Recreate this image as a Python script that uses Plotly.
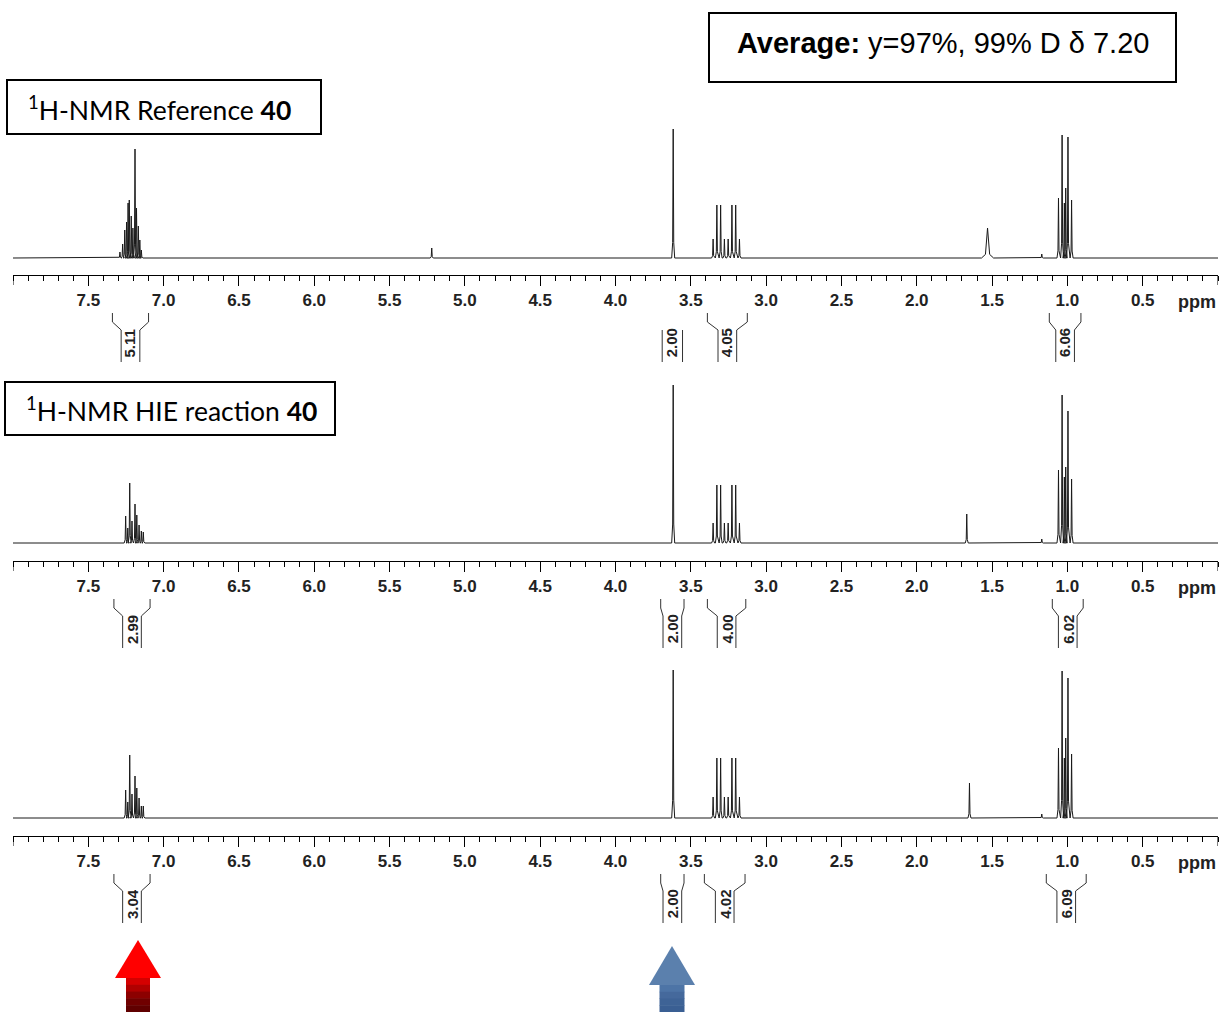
import plotly.graph_objects as go

# ---------------- data ----------------
# Panel 1: 1H-NMR Reference 40
ref_ppm = [7.290, 7.272, 7.258, 7.246, 7.236, 7.228, 7.215, 7.204, 7.190, 7.180, 7.168, 7.158, 7.148,
           5.220, 3.617,
           3.352, 3.327, 3.302, 3.277, 3.252, 3.227, 3.202, 3.177,
           1.170, 1.059, 1.035, 1.020, 1.011, 0.996, 0.972]
ref_int = [6, 14, 28, 36, 55, 58, 42, 30, 109, 50, 32, 18, 8,
           10, 129,
           19, 53, 53, 19, 19, 53, 53, 19,
           4, 60, 123, 55, 70, 121, 58]
ref_broad_ppm = [1.530]
ref_broad_int = [30]

# Panel 2: 1H-NMR HIE reaction 40
hie_ppm = [7.252, 7.238, 7.225, 7.210, 7.190, 7.178, 7.163, 7.148, 7.135,
           3.617,
           3.352, 3.327, 3.302, 3.277, 3.252, 3.227, 3.202, 3.177,
           1.668, 1.170, 1.059, 1.035, 1.020, 1.011, 0.996, 0.972]
hie_int = [27, 15, 60, 22, 39, 28, 18, 12, 11,
           158,
           20, 58, 58, 20, 20, 58, 58, 20,
           29, 4, 73, 148, 66, 76, 132, 64]

# Panel 3: repeat
rep_ppm = [7.252, 7.238, 7.225, 7.210, 7.190, 7.178, 7.163, 7.148, 7.135,
           3.617,
           3.352, 3.327, 3.302, 3.277, 3.252, 3.227, 3.202, 3.177,
           1.650, 1.170, 1.059, 1.035, 1.020, 1.011, 0.996, 0.972]
rep_int = [28, 16, 63, 24, 42, 30, 20, 12, 12,
           148,
           21, 60, 60, 21, 21, 60, 60, 21,
           35, 4, 70, 147, 60, 80, 140, 64]

# integrals: start ppm, end ppm, value
int1_start = [7.34, 3.69, 3.39, 1.12]
int1_end = [7.10, 3.555, 3.125, 0.91]
int1_val = ["5.11", "2.00", "4.05", "6.06"]
int2_start = [7.33, 3.70, 3.39, 1.10]
int2_end = [7.09, 3.545, 3.135, 0.895]
int2_val = ["2.99", "2.00", "4.00", "6.02"]
int3_start = [7.33, 3.70, 3.41, 1.14]
int3_end = [7.09, 3.545, 3.14, 0.875]
int3_val = ["3.04", "2.00", "4.02", "6.09"]

tick_vals = [7.5, 7.0, 6.5, 6.0, 5.5, 5.0, 4.5, 4.0, 3.5, 3.0, 2.5, 2.0, 1.5, 1.0, 0.5]
tick_text = ["7.5", "7.0", "6.5", "6.0", "5.5", "5.0", "4.5", "4.0", "3.5", "3.0", "2.5",
             "2.0", "1.5", "1.0", "0.5"]
axis_ends = [8.0, 0.0]

# ---------------- helpers ----------------
W, H = 1220, 1012


def px(p):
    return p / W


def py(p):
    return 1 - p / H


SHAPE_OFF = [1.0, 0.35, 0.0, -0.35, -1.0]
SHAPE_REL = [0.0, 0.12, 1.0, 0.12, 0.0]


def spectrum(ppms, ints, broad_ppm=(), broad_int=(), w=0.010, wb=0.04, x_max=8.0, x_min=0.0):
    peaks = [(p, h, w) for p, h in zip(ppms, ints)]
    peaks += [(p, h, wb) for p, h in zip(broad_ppm, broad_int)]
    peaks.sort(key=lambda t: -t[0])
    xs, ys = [x_max], [0]
    for p, h, ww in peaks:
        for o, r in zip(SHAPE_OFF, SHAPE_REL):
            xs.append(p + o * ww)
            ys.append(h * r)
    xs.append(x_min)
    ys.append(0)
    return xs, ys


panels = [
    dict(axis=275, top=115, base_off=17, ppm=ref_ppm, ints=ref_int, bp=ref_broad_ppm, bi=ref_broad_int,
         ist=int1_start, ien=int1_end, ival=int1_val),
    dict(axis=561, top=378, base_off=18, ppm=hie_ppm, ints=hie_int, bp=[], bi=[],
         ist=int2_start, ien=int2_end, ival=int2_val),
    dict(axis=836, top=655, base_off=18, ppm=rep_ppm, ints=rep_int, bp=[], bi=[],
         ist=int3_start, ien=int3_end, ival=int3_val),
]

fig = go.Figure()
shapes = []
annotations = []
layout = {}

for i, pn in enumerate(panels):
    n = "" if i == 0 else str(i + 1)
    xs, ys = spectrum(pn["ppm"], pn["ints"], pn["bp"], pn["bi"])
    fig.add_trace(go.Scatter(x=xs, y=ys, mode="lines", line=dict(color="#1a1a1a", width=1),
                             xaxis="x" + n, yaxis="y" + n, showlegend=False, hoverinfo="skip"))
    span = pn["axis"] - pn["top"]
    layout["yaxis" + n] = dict(domain=[py(pn["axis"]), py(pn["top"])],
                               range=[-pn["base_off"], span - pn["base_off"]],
                               visible=False, anchor="x" + n)
    layout["xaxis" + n] = dict(domain=[px(13), px(1218)], range=[8.0, 0.0], anchor="y" + n,
                               showline=True, linecolor="black", linewidth=1,
                               showgrid=False, zeroline=False,
                               ticks="outside", ticklen=10, tickcolor="black", tickwidth=1,
                               tickmode="array", tickvals=tick_vals, ticktext=tick_text,
                               tickfont=dict(family="Liberation Sans, Arial", size=17, color="#222",
                                             weight="bold"),
                               ticklabelstandoff=0,
                               minor=dict(tickmode="linear", tick0=0, dtick=0.1, ticks="outside",
                                          ticklen=5, tickcolor="black", tickwidth=1, showgrid=False))
    A = pn["axis"]
    # long ticks at both axis ends
    for xe in axis_ends:
        shapes.append(dict(type="line", xref="x" + n, yref="paper", x0=xe, x1=xe, y0=py(A), y1=py(A + 10),
                           line=dict(color="black", width=1)))
    annotations.append(dict(text="<b>ppm</b>", xref="paper", yref="paper", x=px(1197), y=py(A + 27),
                            xanchor="center", yanchor="middle", showarrow=False,
                            font=dict(family="Liberation Sans, Arial", size=18, color="#222")))
    # integrals
    hw = 0.062
    y_top, y_bend, y_nar, y_bot = py(A + 38), py(A + 47), py(A + 55), py(A + 87)
    for s, e, v in zip(pn["ist"], pn["ien"], pn["ival"]):
        mid = (s + e) / 2
        if (s - e) / 2 <= hw + 0.01:
            path = (f"M {s},{y_nar} L {s},{y_bot} M {e},{y_nar} L {e},{y_bot}")
        else:
            path = (f"M {s},{y_top} L {s},{y_bend} L {mid + hw},{y_nar} L {mid + hw},{y_bot} "
                    f"M {e},{y_top} L {e},{y_bend} L {mid - hw},{y_nar} L {mid - hw},{y_bot}")
        shapes.append(dict(type="path", xref="x" + n, yref="paper", path=path,
                           line=dict(color="#333", width=1)))
        annotations.append(dict(text=f"<b>{v}</b>", xref="x" + n, yref="paper", x=mid, y=py(A + 68),
                                textangle=-90, showarrow=False, xanchor="center", yanchor="middle",
                                font=dict(family="Liberation Sans, Arial", size=15, color="#222")))

# header boxes
shapes.append(dict(type="rect", xref="paper", yref="paper", x0=px(7), x1=px(321), y0=py(134), y1=py(80),
                   line=dict(color="black", width=2)))
annotations.append(dict(text="<sup>1</sup>H-NMR Reference <b>40</b>", xref="paper", yref="paper",
                        x=px(26), y=py(108), xanchor="left", yanchor="middle", showarrow=False,
                        font=dict(family="Lato", size=26.5, color="black")))
shapes.append(dict(type="rect", xref="paper", yref="paper", x0=px(5), x1=px(335), y0=py(435), y1=py(382),
                   line=dict(color="black", width=2)))
annotations.append(dict(text="<sup>1</sup>H-NMR HIE reaction <b>40</b>", xref="paper", yref="paper",
                        x=px(24), y=py(409), xanchor="left", yanchor="middle", showarrow=False,
                        font=dict(family="Lato", size=26.5, color="black")))
shapes.append(dict(type="rect", xref="paper", yref="paper", x0=px(709), x1=px(1176), y0=py(82), y1=py(13),
                   line=dict(color="black", width=2)))
annotations.append(dict(text="<b>Average:</b> y=97%, 99% D δ 7.20", xref="paper", yref="paper",
                        x=px(943), y=py(43), xanchor="center", yanchor="middle", showarrow=False,
                        font=dict(family="Liberation Sans, Arial", size=29, color="black")))


# arrows (decorative)
def arrow(cx, tip, base, hw_head, hw_shaft, head_col, shaft_cols):
    out = [dict(type="path", xref="paper", yref="paper", line=dict(width=0), fillcolor=head_col,
                path=f"M {px(cx - hw_head)},{py(base)} L {px(cx)},{py(tip)} L {px(cx + hw_head)},{py(base)} Z")]
    nb = len(shaft_cols)
    seg = (1012 - base) / nb
    for k, c in enumerate(shaft_cols):
        out.append(dict(type="rect", xref="paper", yref="paper", line=dict(width=0), fillcolor=c,
                        x0=px(cx - hw_shaft), x1=px(cx + hw_shaft),
                        y0=py(base + (k + 1) * seg + 0.5), y1=py(base + k * seg)))
    return out


shapes += arrow(138, 940, 978, 23, 12, "#ff0000", ["#d40000", "#b00000", "#8c0000", "#700000", "#600000"])
shapes += arrow(672, 946, 985, 23, 12.5, "#5b80ad", ["#4d74a6", "#45699c", "#3e6396", "#3a5f93"])

fig.update_layout(width=W, height=H, margin=dict(l=0, r=0, t=0, b=0), paper_bgcolor="white",
                  plot_bgcolor="rgba(0,0,0,0)", shapes=shapes, annotations=annotations, **layout)

fig.write_html("out.html", config={"displayModeBar": False},
               post_script="document.body.style.margin='0';document.body.style.overflow='hidden';")
